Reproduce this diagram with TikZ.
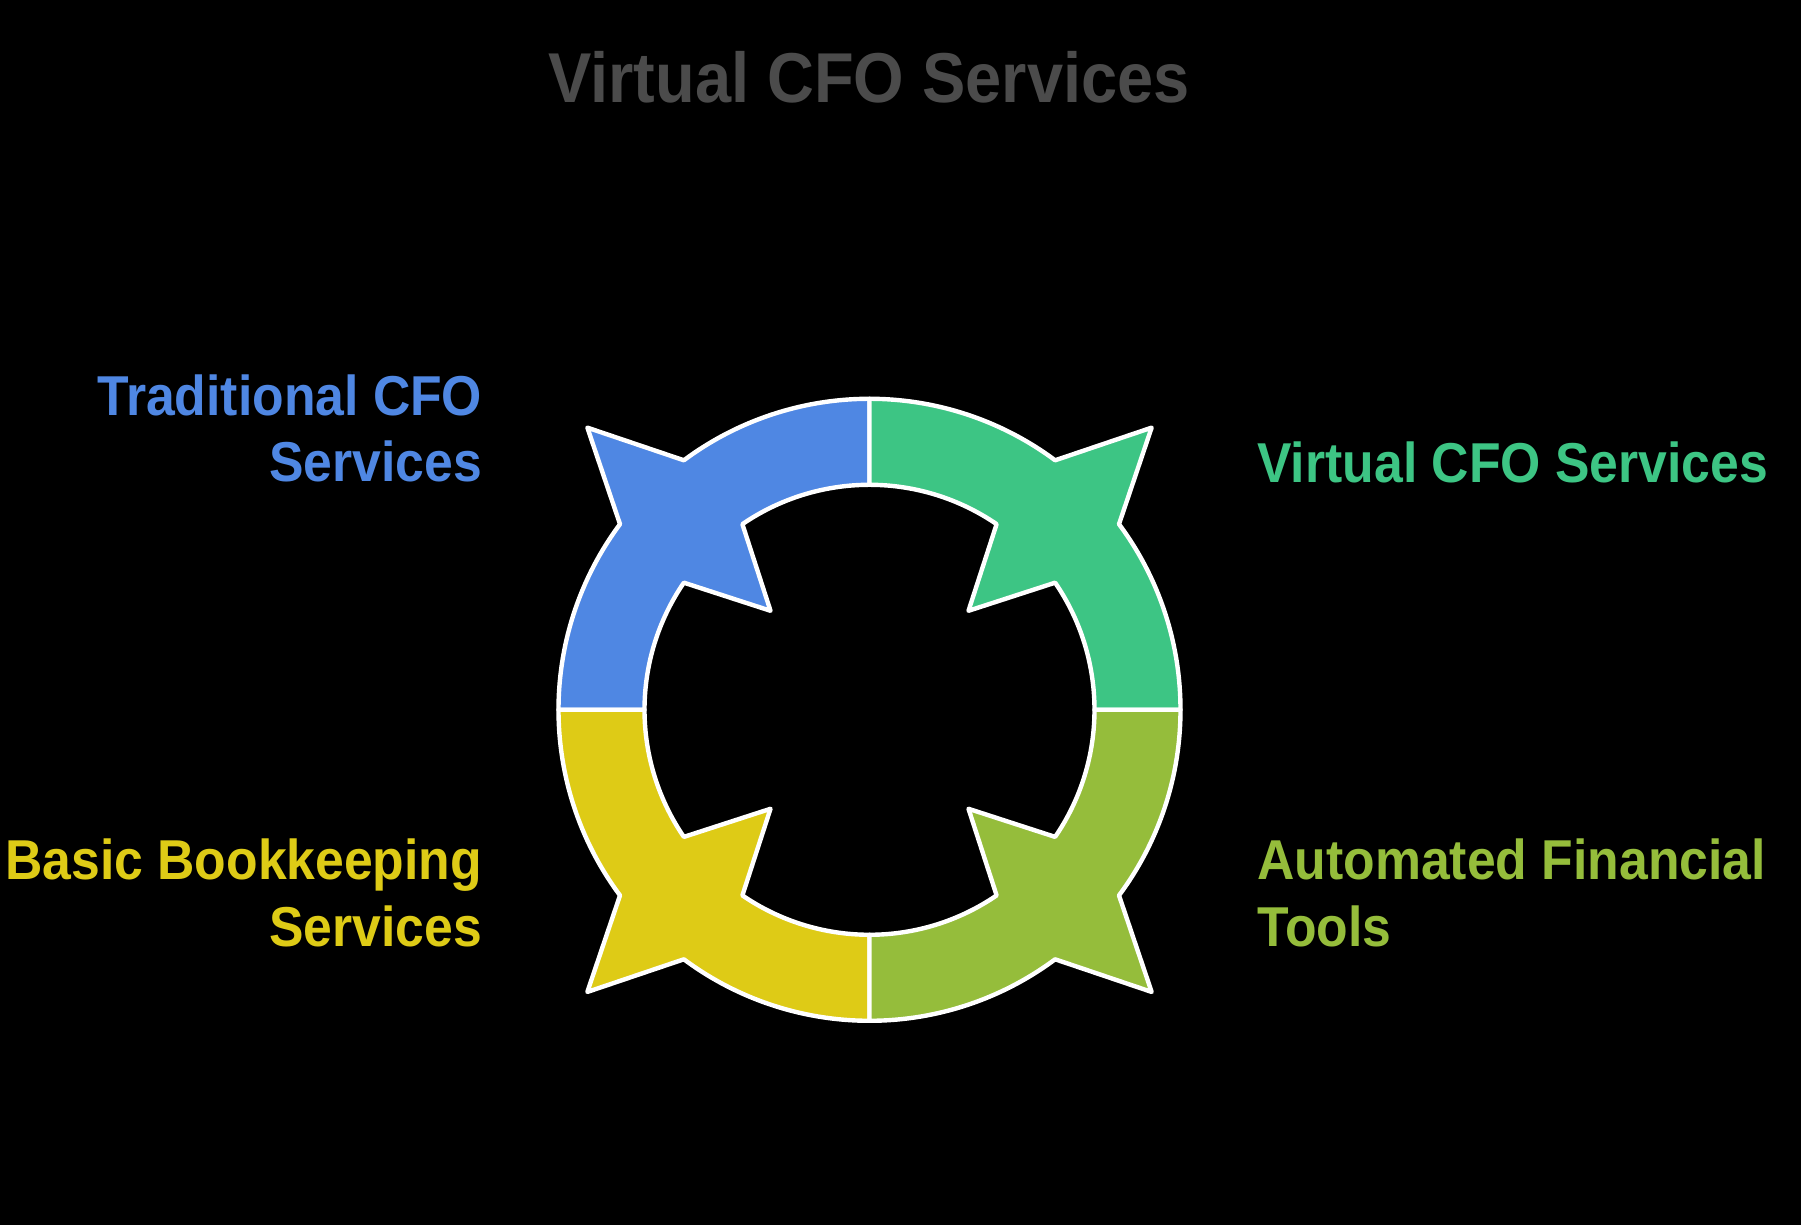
\documentclass[tikz,border=0pt]{standalone}
\usepackage{fontspec}
\setmainfont{Liberation Sans}[FakeStretch=0.92]
\usetikzlibrary{calc}
\definecolor{cblue}{HTML}{4F87E3}
\definecolor{cgreen}{HTML}{3DC584}
\definecolor{cyellow}{HTML}{DECB16}
\definecolor{colive}{HTML}{95BD3B}
\definecolor{ctitle}{HTML}{4B4B4B}
\newcommand{\ringsector}[2]{%
  \filldraw[sectorstyle, fill=#1]
    (#2:155.5pt) arc[start angle=#2, end angle={#2+36.65}, radius=155.5pt]
    -- ({#2+45}:199.5pt) -- ({#2+53.35}:155.5pt)
    arc[start angle={#2+53.35}, end angle={#2+90}, radius=155.5pt]
    -- ({#2+90}:112.5pt)
    arc[start angle={#2+90}, end angle={#2+55.6}, radius=112.5pt]
    -- ({#2+45}:70pt) -- ({#2+34.4}:112.5pt)
    arc[start angle={#2+34.4}, end angle=#2, radius=112.5pt] -- cycle;}
\begin{document}
\begin{tikzpicture}[x=1pt,y=1pt,
  sectorstyle/.style={draw=white, line width=2.2pt, line join=round},
  labeltext/.style={font=\fontsize{28.1pt}{33pt}\selectfont\bfseries, inner sep=0pt}]
\fill[black] (0,0) rectangle (900.5,612.5);
\useasboundingbox (0,0) rectangle (900.5,612.5);
\node[anchor=base, text=ctitle, inner sep=0pt, font=\fontsize{35.3pt}{40pt}\selectfont\bfseries] (title) at (434.5,561) {Virtual CFO Services};
\begin{scope}[shift={(434.75,257.6)}]
  \ringsector{cblue}{90}
  \ringsector{cgreen}{0}
  \ringsector{cyellow}{180}
  \ringsector{colive}{270}
\end{scope}
\node[labeltext, text=cblue, anchor=base east] (trad1) at (241.3,404.8) {Traditional CFO};
\node[labeltext, text=cblue, anchor=base east] (trad2) at (241.3,371.5) {Services};
\node[labeltext, text=cgreen, anchor=base west] (virt) at (628.5,371.3) {Virtual CFO Services};
\node[labeltext, text=cyellow, anchor=base east] (book1) at (241.3,172.5) {Basic Bookkeeping};
\node[labeltext, text=cyellow, anchor=base east] (book2) at (241.3,139.2) {Services};
\node[labeltext, text=colive, anchor=base west] (auto1) at (628.5,172.5) {Automated Financial};
\node[labeltext, text=colive, anchor=base west] (auto2) at (628.5,139.2) {Tools};
\end{tikzpicture}
\end{document}
